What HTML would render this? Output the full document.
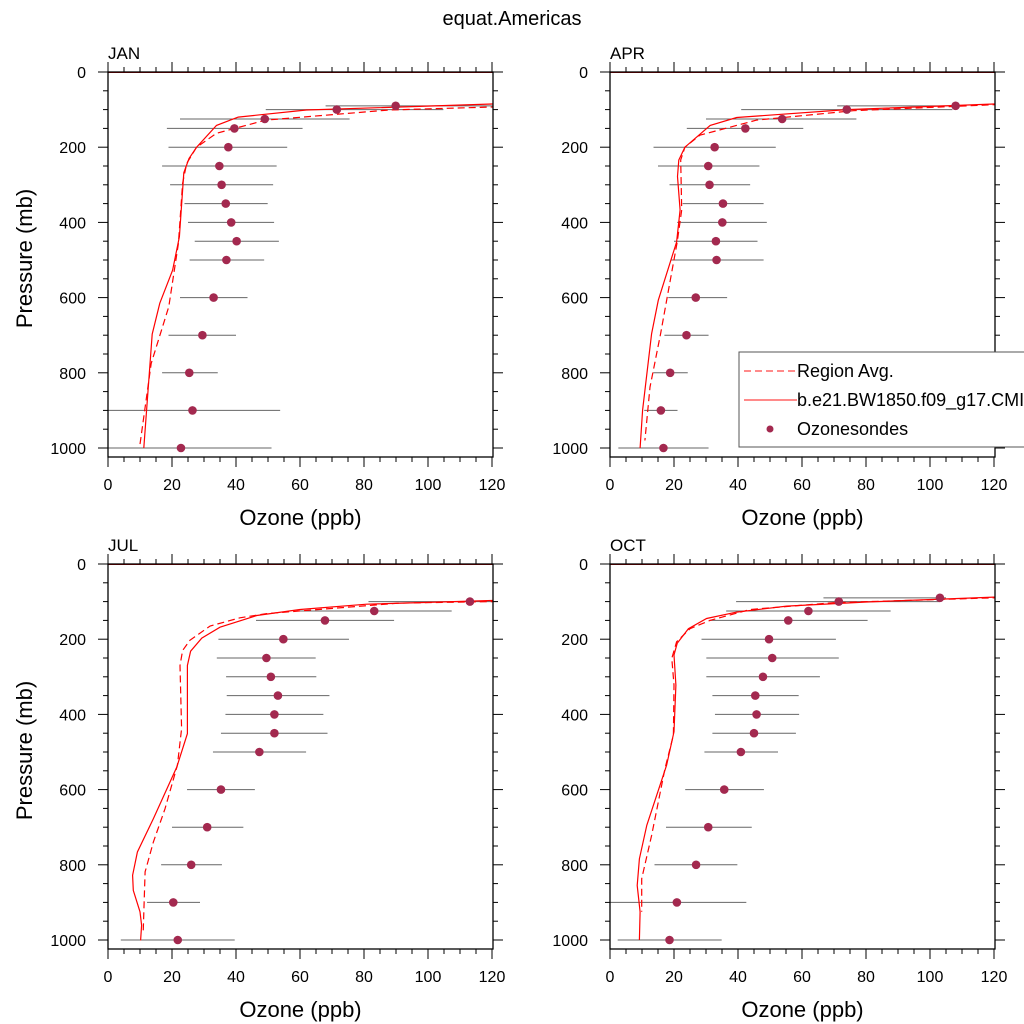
<!DOCTYPE html>
<html><head><meta charset="utf-8"><style>
html,body{margin:0;padding:0;background:#fff}
svg{display:block;font-family:"Liberation Sans",sans-serif}
</style></head><body>
<svg id="chart" width="1024" height="1024" viewBox="0 0 1024 1024" xmlns="http://www.w3.org/2000/svg">
<text x="512" y="25" font-size="20" text-anchor="middle">equat.Americas</text>
</svg>
<script>
const panelNames=["JAN","APR","JUL","OCT"];
const xTicks=[0,20,40,60,80,100,120];
const yTicks=[0,200,400,600,800,1000];
const sondeP=[90,100,125,150,200,250,300,350,400,450,500,600,700,800,900,1000];
const sondeJAN=[89.9,71.5,49,39.5,37.6,34.8,35.5,36.8,38.5,40.2,37,33,29.5,25.4,26.4,22.8];
const lowJAN=[68,49.3,22.5,18.4,18.9,16.9,19.4,23.9,25,27.1,25.5,22.5,18.9,16.9,0,0];
const highJAN=[125,104.8,75.5,60.8,56,52.7,51.6,49.9,51.9,53.4,48.8,43.6,40,34.3,53.8,51.1];
const sondeAPR=[108,74,53.8,42.3,32.7,30.7,31.1,35.3,35.1,33.1,33.3,26.8,23.9,18.8,15.9,16.7];
const lowAPR=[71,41,30,24,13.6,15,18.6,22.7,21,20,19,18.2,17,13.5,10.7,2.6];
const highAPR=[107,107,77,60.4,51.8,46.7,43.8,48,49,46.1,48,36.6,30.8,24.3,21.1,30.8];
const sondeJUL=[null,113.1,83.2,67.8,54.8,49.5,50.9,53.1,52,52,47.3,35.3,31,26,20.4,21.8];
const lowJUL=[null,81.4,60,46.25,34.5,34,36.9,37.1,36.7,35.3,32.8,24.7,20,16.6,12.2,4];
const highJUL=[null,125,107.4,89.4,75.3,64.9,65.1,69.2,67.3,68.6,61.9,45.9,42.3,35.6,28.75,39.6];
const sondeOCT=[103.1,71.5,62,55.7,49.7,50.7,47.8,45.4,45.8,45,40.9,35.7,30.7,26.9,20.9,18.6];
const lowOCT=[66.7,39.4,36.3,31,28.6,30.1,30.1,32,32.8,32,29.5,23.5,17.5,13.9,0,2.4];
const highOCT=[105,103.1,87.7,80.5,70.6,71.5,65.6,58.96,59.1,58.1,52.5,48.1,44.3,39.8,42.6,34.9];
const modelP_JAN=[0,85,101,120,142,200,230,268,438,527,615,697,1000];
const modelJAN=[400,120,62,40.7,33.9,27.7,25.3,23.7,22.3,20.2,16.2,13.8,11.2];
const avgP_JAN=[0,93,101,128,163,200,243,296,456,624,775,990];
const avgJAN=[400,120,87.8,49.3,33.9,27.7,24.6,23.3,22,19,13.5,10];
const modelP_APR=[0,85,100,121,142,200,234,278,367,452,607,696,899,1000];
const modelAPR=[400,120,74,39.6,31.3,23.4,21.5,21.1,21.9,20.8,15.1,13,10.2,9.4];
const avgP_APR=[0,87,103,128,168,200,234,367,452,696,838,980];
const avgAPR=[400,120,76,45.8,28.1,23.4,22.1,22.4,21,15.8,12.5,10.9];
const modelP_JUL=[0,97,107,121,137,168,197,232,270,451,540,677,766,828,868,925,961,1001];
const modelJUL=[400,120,80.8,60,46.5,35,29.3,25.8,24.8,24.8,21.5,14.2,9.2,7.7,7.9,10,10.5,10.2];
const avgP_JUL=[0,100,104,132,143,165,203,230,270,438,535,651,739,819,979];
const avgJUL=[400,120,91,49.6,41.25,31.9,25.6,23.3,22.5,23,21.7,17.8,14.2,11.6,11];
const modelP_OCT=[0,88,101,112,128,145,172,211,242,322,446,535,695,784,855,925,1000];
const modelOCT=[400,120,80.2,55.2,39.6,30.2,24.5,21,20,20.6,20,17.7,11.5,9.2,8.5,9.4,9.2];
const avgP_OCT=[0,90,103,121,150,172,207,251,322,455,544,722,837,925];
const avgOCT=[400,120,69.8,43.75,31.25,25,20.8,19.3,20,19.8,17.2,13,9.9,9.9];

const svg=document.getElementById('chart');
const NS='http://www.w3.org/2000/svg';
function mk(tag,attrs,parent){const e=document.createElementNS(NS,tag);for(const k in attrs)e.setAttribute(k,attrs[k]);(parent||svg).appendChild(e);return e;}
const panels=[
 {x0:108,y0:72,s:sondeJAN,lo:lowJAN,hi:highJAN,mp:modelP_JAN,mv:modelJAN,ap:avgP_JAN,av:avgJAN},
 {x0:610,y0:72,s:sondeAPR,lo:lowAPR,hi:highAPR,mp:modelP_APR,mv:modelAPR,ap:avgP_APR,av:avgAPR},
 {x0:108,y0:564,s:sondeJUL,lo:lowJUL,hi:highJUL,mp:modelP_JUL,mv:modelJUL,ap:avgP_JUL,av:avgJUL},
 {x0:610,y0:564,s:sondeOCT,lo:lowOCT,hi:highOCT,mp:modelP_OCT,mv:modelOCT,ap:avgP_OCT,av:avgOCT}
];
const W=385,H=385,XS=3.2,YS=0.376;
panels.forEach((P,i)=>{
 const xs=v=>P.x0+v*XS, ys=p=>P.y0+p*YS;
 const g=mk('g',{});
 
 
 const cp=mk('clipPath',{id:'clip'+i},g);
 mk('rect',{x:P.x0,y:P.y0,width:W,height:H},cp);
 const lbl=mk('text',{x:P.x0,y:P.y0-13,'font-size':17},g);lbl.textContent=panelNames[i];
 
 
 const plot=mk('g',{'clip-path':'url(#clip'+i+')'},g);
 sondeP.forEach((p,k)=>{ if(P.s[k]==null)return;
  const b=mk('line',{x1:xs(P.lo[k]),x2:xs(P.hi[k]),y1:ys(p),y2:ys(p),stroke:'#666','stroke-width':1},plot);
  
  
 });
 const pts=(pp,vv)=>pp.map((p,k)=>xs(vv[k]).toFixed(1)+','+ys(p).toFixed(1)).join(' ');
 const av=mk('polyline',{points:pts(P.ap,P.av),fill:'none',stroke:'#f00','stroke-width':1.2,'stroke-dasharray':'7,4'},plot);
 
 
 const md=mk('polyline',{points:pts(P.mp,P.mv),fill:'none',stroke:'#f00','stroke-width':1.2},plot);
 
 
 mk('line',{x1:P.x0,x2:P.x0+W,y1:ys(0),y2:ys(0),stroke:'#b00000','stroke-width':2},plot);
 sondeP.forEach((p,k)=>{ if(P.s[k]==null)return;
  const c=mk('circle',{cx:xs(P.s[k]),cy:ys(p),r:4.3,fill:'#a3294f'},plot);
  
  
 });
 mk('rect',{x:P.x0,y:P.y0,width:W,height:H,fill:'none',stroke:'#000','stroke-width':1.3},g);
 for(let v=0;v<=120;v+=5){const maj=v%20==0,L=maj?10:5;
  mk('line',{x1:xs(v),x2:xs(v),y1:P.y0+H,y2:P.y0+H+L,stroke:'#000'},g);
  mk('line',{x1:xs(v),x2:xs(v),y1:P.y0,y2:P.y0-L,stroke:'#000'},g);}
 xTicks.forEach(v=>{const t=mk('text',{x:xs(v),y:P.y0+H+33,'font-size':16,'text-anchor':'middle'},g);t.textContent=v;
  
  });
 for(let p=0;p<=1000;p+=50){const maj=p%200==0,L=maj?10:5;
  mk('line',{x1:P.x0,x2:P.x0-L,y1:ys(p),y2:ys(p),stroke:'#000'},g);
  mk('line',{x1:P.x0+W,x2:P.x0+W+L,y1:ys(p),y2:ys(p),stroke:'#000'},g);}
 yTicks.forEach(p=>{const t=mk('text',{x:P.x0-22,y:ys(p)+6,'font-size':16,'text-anchor':'end'},g);t.textContent=p;
  
  });
 const xt=mk('text',{x:P.x0+W/2,y:P.y0+H+68,'font-size':22,'text-anchor':'middle'},g);xt.textContent='Ozone (ppb)';
 
 
 if(i%2==0){const yt=mk('text',{x:0,y:0,'font-size':22,'text-anchor':'middle',transform:'translate(32,'+(P.y0+H/2-6)+') rotate(-90)'},g);yt.textContent='Pressure (mb)';
  
  }
});
const lg=mk('g',{});


mk('rect',{x:739,y:352,width:300,height:95,fill:'#fff',stroke:'#555','stroke-width':1},lg);
mk('line',{x1:744,x2:797,y1:371,y2:371,stroke:'#f44','stroke-width':1.2,'stroke-dasharray':'7,4'},lg);
mk('line',{x1:744,x2:797,y1:400,y2:400,stroke:'#f44','stroke-width':1.2},lg);
mk('circle',{cx:770,cy:429,r:3.5,fill:'#a3294f'},lg);
[['Region Avg.',377],['b.e21.BW1850.f09_g17.CMIP6-piControl.001',406],['Ozonesondes',435]].forEach(a=>{
 const t=mk('text',{x:797,y:a[1],'font-size':18},lg);t.textContent=a[0];
 
 });
</script>
</body></html>
